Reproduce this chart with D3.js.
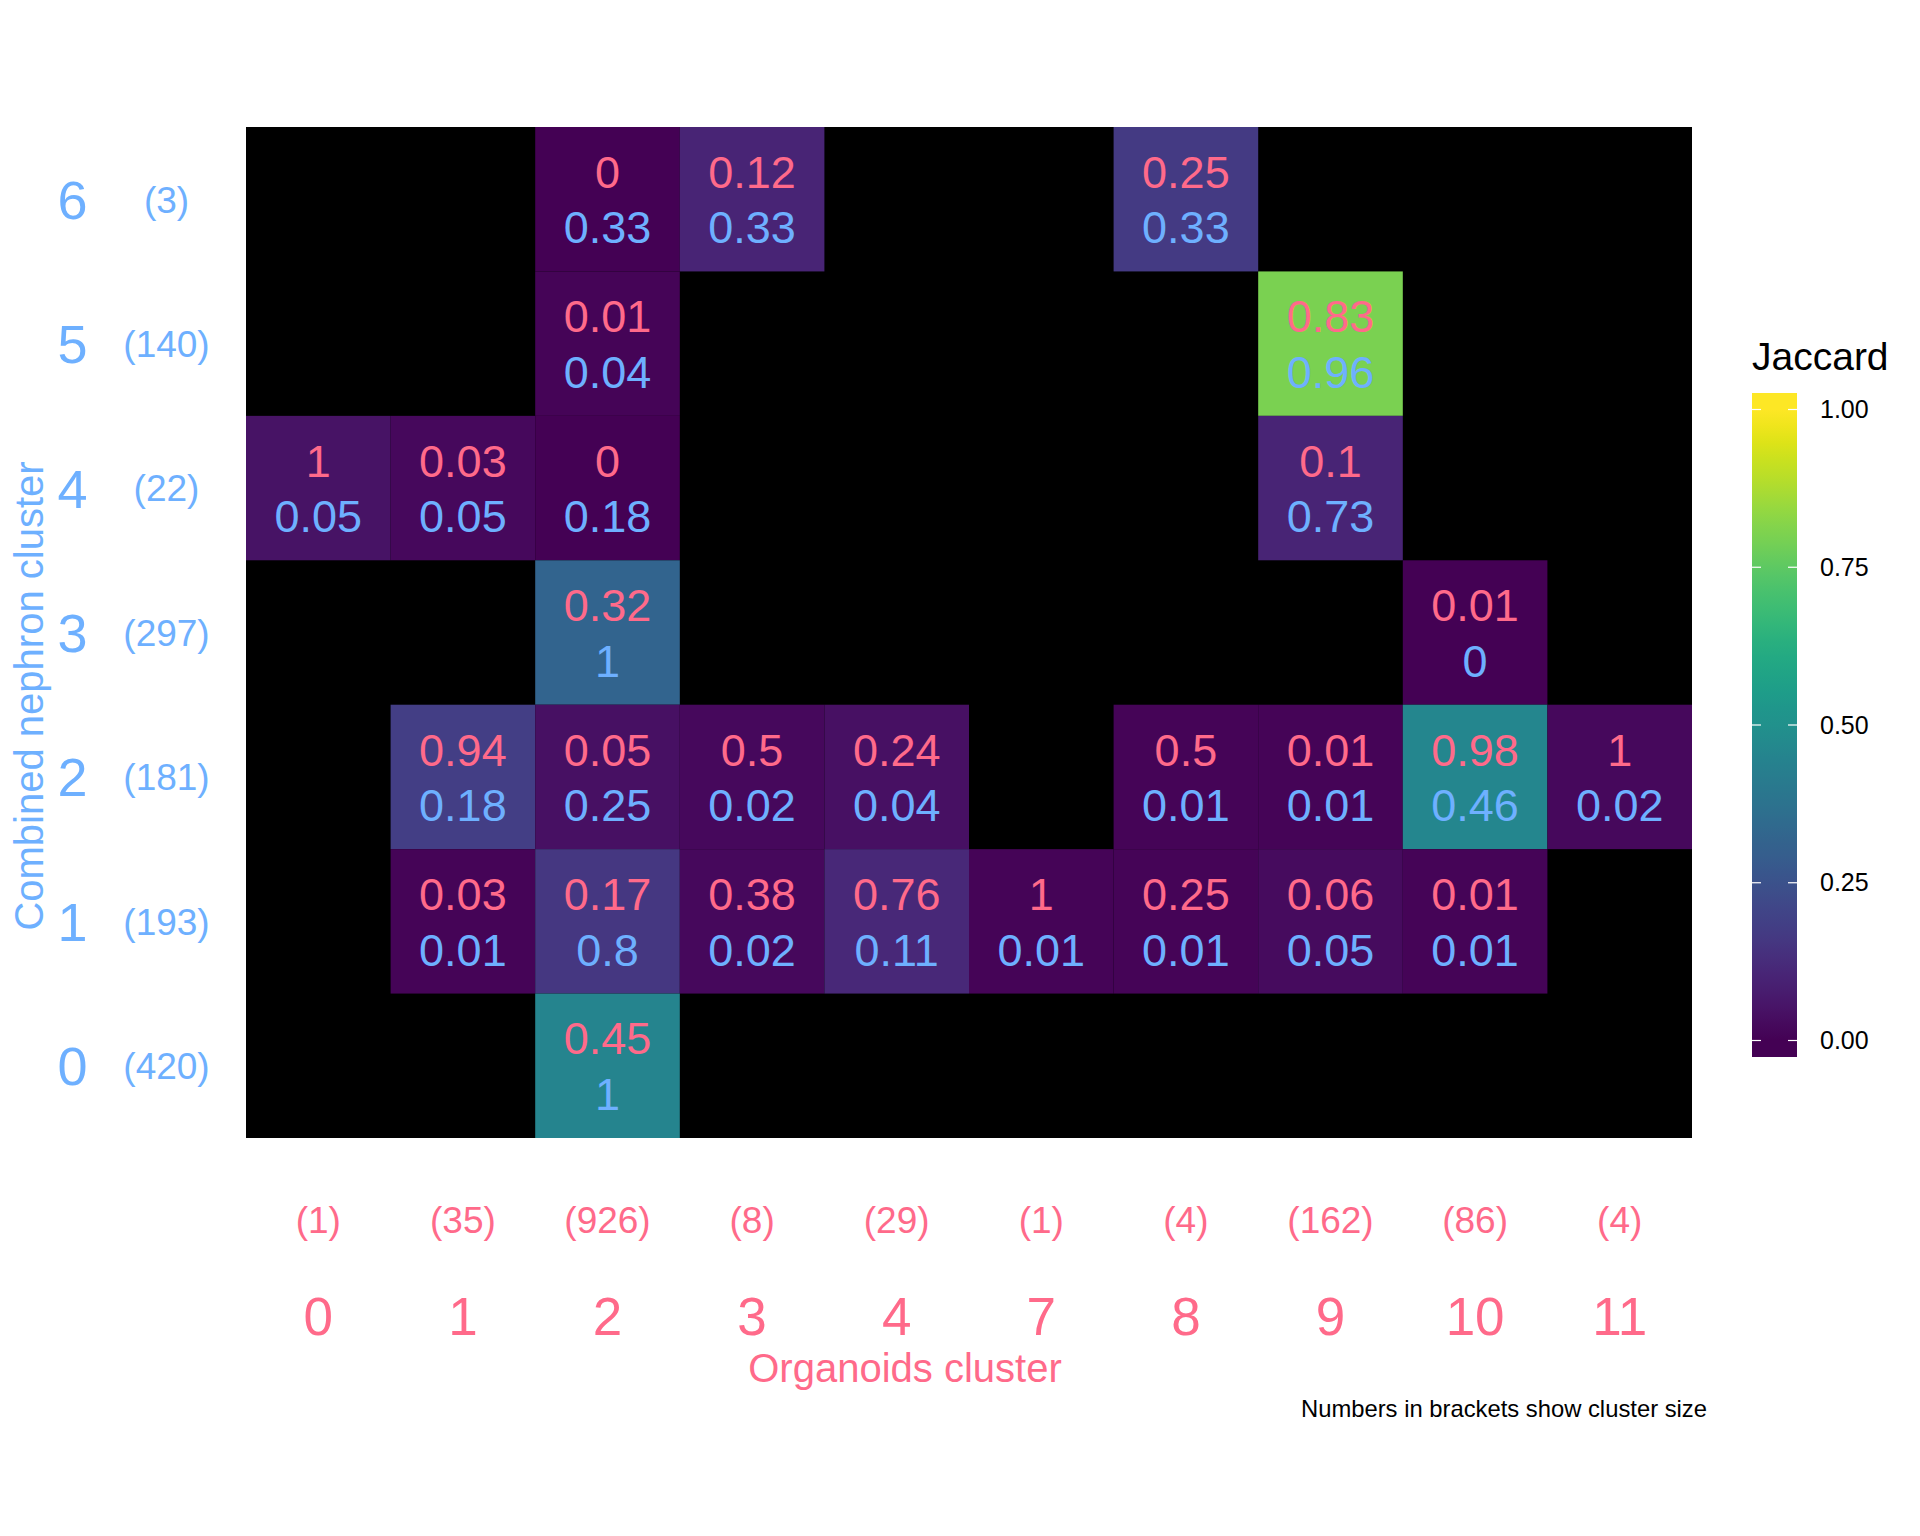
<!DOCTYPE html>
<html><head><meta charset="utf-8">
<script src="https://cdn.jsdelivr.net/npm/d3@7"></script>
<style>
body{margin:0;background:#fff}
text{font-family:'Liberation Sans',Arial,Helvetica,sans-serif}
</style>
</head><body><svg id="c" width="1920" height="1536"></svg>
<script>
// ---- data ----
const orgClusters = ["0","1","2","3","4","7","8","9","10","11"];
const orgSizes    = [1,35,926,8,29,1,4,162,86,4];
const nephClusters = ["0","1","2","3","4","5","6"];
const nephSizes    = [420,193,181,297,22,140,3];

const cellOrg  = ["2","3","8","2","9","0","1","2","9","2","10","1","2","3","4","8","9","10","11","1","2","3","4","7","8","9","10","2"];
const cellNeph = ["6","6","6","5","5","4","4","4","4","3","3","2","2","2","2","2","2","2","2","1","1","1","1","1","1","1","1","0"];
const fracOrg  = [0,0.12,0.25,0.01,0.83,1,0.03,0,0.1,0.32,0.01,0.94,0.05,0.5,0.24,0.5,0.01,0.98,1,0.03,0.17,0.38,0.76,1,0.25,0.06,0.01,0.45];
const fracNeph = [0.33,0.33,0.33,0.04,0.96,0.05,0.05,0.18,0.73,1,0,0.18,0.25,0.02,0.04,0.01,0.01,0.46,0.02,0.01,0.8,0.02,0.11,0.01,0.01,0.05,0.01,1];
const jaccard  = [0,0.10,0.17,0.01,0.80,0.05,0.02,0,0.10,0.32,0,0.18,0.04,0.02,0.04,0.01,0.01,0.46,0.02,0.01,0.16,0.02,0.11,0.01,0.01,0.03,0.01,0.45];
const legendTicks = [0,0.25,0.5,0.75,1];

// ---- styles ----
const PINK = "#ff6a8a", BLUE = "#6eb0ff";
const svg = d3.select("#c");

const x = d3.scaleBand().domain(orgClusters).range([246,1692]);
const y = d3.scaleBand().domain(nephClusters).range([1138,127]);
const color = d3.scaleSequential(d3.interpolateViridis).domain([0,1]).clamp(true);

// panel background
svg.append("rect").attr("x",246).attr("y",127).attr("width",1692-246).attr("height",1138-127).attr("fill","#000");

const cells = cellOrg.map((o,i)=>({o, n:cellNeph[i], a:fracOrg[i], b:fracNeph[i], j:jaccard[i]}));

const g = svg.append("g");
g.selectAll("rect.cell").data(cells).join("rect").attr("class","cell")
  .attr("x",d=>x(d.o)).attr("y",d=>y(d.n))
  .attr("width",x.bandwidth()).attr("height",y.bandwidth())
  .attr("fill",d=>color(d.j));

g.selectAll("text.top").data(cells).join("text").attr("class","top")
  .attr("x",d=>x(d.o)+x.bandwidth()/2)
  .attr("y",d=>y(d.n)+y.bandwidth()/2-27.5)
  .attr("dy","0.36em").attr("text-anchor","middle")
  .attr("font-size",45).attr("fill",PINK).text(d=>String(d.a));
g.selectAll("text.bot").data(cells).join("text").attr("class","bot")
  .attr("x",d=>x(d.o)+x.bandwidth()/2)
  .attr("y",d=>y(d.n)+y.bandwidth()/2+28)
  .attr("dy","0.36em").attr("text-anchor","middle")
  .attr("font-size",45).attr("fill",BLUE).text(d=>String(d.b));

// ---- x axis (numbers + brackets) ----
const xAxNum = svg.append("g").attr("transform","translate(0,1335)")
  .call(d3.axisBottom(x).tickSize(0).tickPadding(0));
xAxNum.select(".domain").remove();
xAxNum.selectAll("text").attr("y",0).attr("dy",0).attr("font-size",53).attr("fill",PINK)
  .style("font-family","'Liberation Sans',Arial,sans-serif");

const xAxBr = svg.append("g").attr("transform","translate(0,1233)")
  .call(d3.axisBottom(x).tickSize(0).tickPadding(0).tickFormat((d,i)=>"("+orgSizes[orgClusters.indexOf(d)]+")"));
xAxBr.select(".domain").remove();
xAxBr.selectAll("text").attr("y",0).attr("dy",0).attr("font-size",37).attr("fill",PINK)
  .style("font-family","'Liberation Sans',Arial,sans-serif");

// ---- y axis (numbers + brackets) ----
const yAxNum = svg.append("g").attr("transform","translate(72.5,0)")
  .call(d3.axisLeft(y).tickSize(0).tickPadding(0));
yAxNum.select(".domain").remove();
yAxNum.selectAll("text").attr("x",0).attr("dy","0.36em").attr("text-anchor","middle")
  .attr("font-size",54).attr("fill",BLUE).style("font-family","'Liberation Sans',Arial,sans-serif");

const yAxBr = svg.append("g").attr("transform","translate(166.5,0)")
  .call(d3.axisLeft(y).tickSize(0).tickPadding(0).tickFormat(d=>"("+nephSizes[nephClusters.indexOf(d)]+")"));
yAxBr.select(".domain").remove();
yAxBr.selectAll("text").attr("x",0).attr("dy","0.36em").attr("text-anchor","middle")
  .attr("font-size",37).attr("fill",BLUE).style("font-family","'Liberation Sans',Arial,sans-serif");

// ---- axis titles ----
svg.append("text").attr("x",905).attr("y",1382).attr("text-anchor","middle")
  .attr("font-size",40).attr("fill",PINK).text("Organoids cluster");
svg.append("text").attr("transform","translate(43,696) rotate(-90)").attr("text-anchor","middle")
  .attr("font-size",40).attr("fill",BLUE).text("Combined nephron cluster");

// caption
svg.append("text").attr("x",1707).attr("y",1417).attr("text-anchor","end")
  .attr("font-size",23.8).attr("fill","#000").text("Numbers in brackets show cluster size");

// ---- legend ----
const barX = 1752, barW = 45, barTop = 393, barBot = 1057;
const ly = d3.scaleLinear().domain([0,1]).range([1040.5,409.5]);
const defs = svg.append("defs");
const grad = defs.append("linearGradient").attr("id","vir").attr("x1",0).attr("y1",0).attr("x2",0).attr("y2",1);
d3.range(0,41).forEach(k=>{
  const py = barTop + (barBot-barTop)*k/40;
  const v = ly.invert(py);
  grad.append("stop").attr("offset",(k/40*100)+"%").attr("stop-color",color(v));
});
svg.append("text").attr("x",1752).attr("y",370).attr("font-size",39).attr("fill","#000").text("Jaccard");
svg.append("rect").attr("x",barX).attr("y",barTop).attr("width",barW).attr("height",barBot-barTop).attr("fill","url(#vir)");
const lg = svg.append("g");
lg.selectAll("line.l").data(legendTicks).join("line")
  .attr("x1",barX).attr("x2",barX+9).attr("y1",d=>ly(d)).attr("y2",d=>ly(d))
  .attr("stroke","#fff").attr("stroke-width",1.2);
lg.selectAll("line.r").data(legendTicks).join("line")
  .attr("x1",barX+barW-9).attr("x2",barX+barW).attr("y1",d=>ly(d)).attr("y2",d=>ly(d))
  .attr("stroke","#fff").attr("stroke-width",1.2);
const lAx = svg.append("g").attr("transform",`translate(${barX+barW},0)`)
  .call(d3.axisRight(ly).tickValues(legendTicks).tickSize(0).tickPadding(23).tickFormat(d3.format(".2f")));
lAx.select(".domain").remove();
lAx.selectAll("text").attr("font-size",25).attr("fill","#000").style("font-family","'Liberation Sans',Arial,sans-serif");
</script>
</body></html>
